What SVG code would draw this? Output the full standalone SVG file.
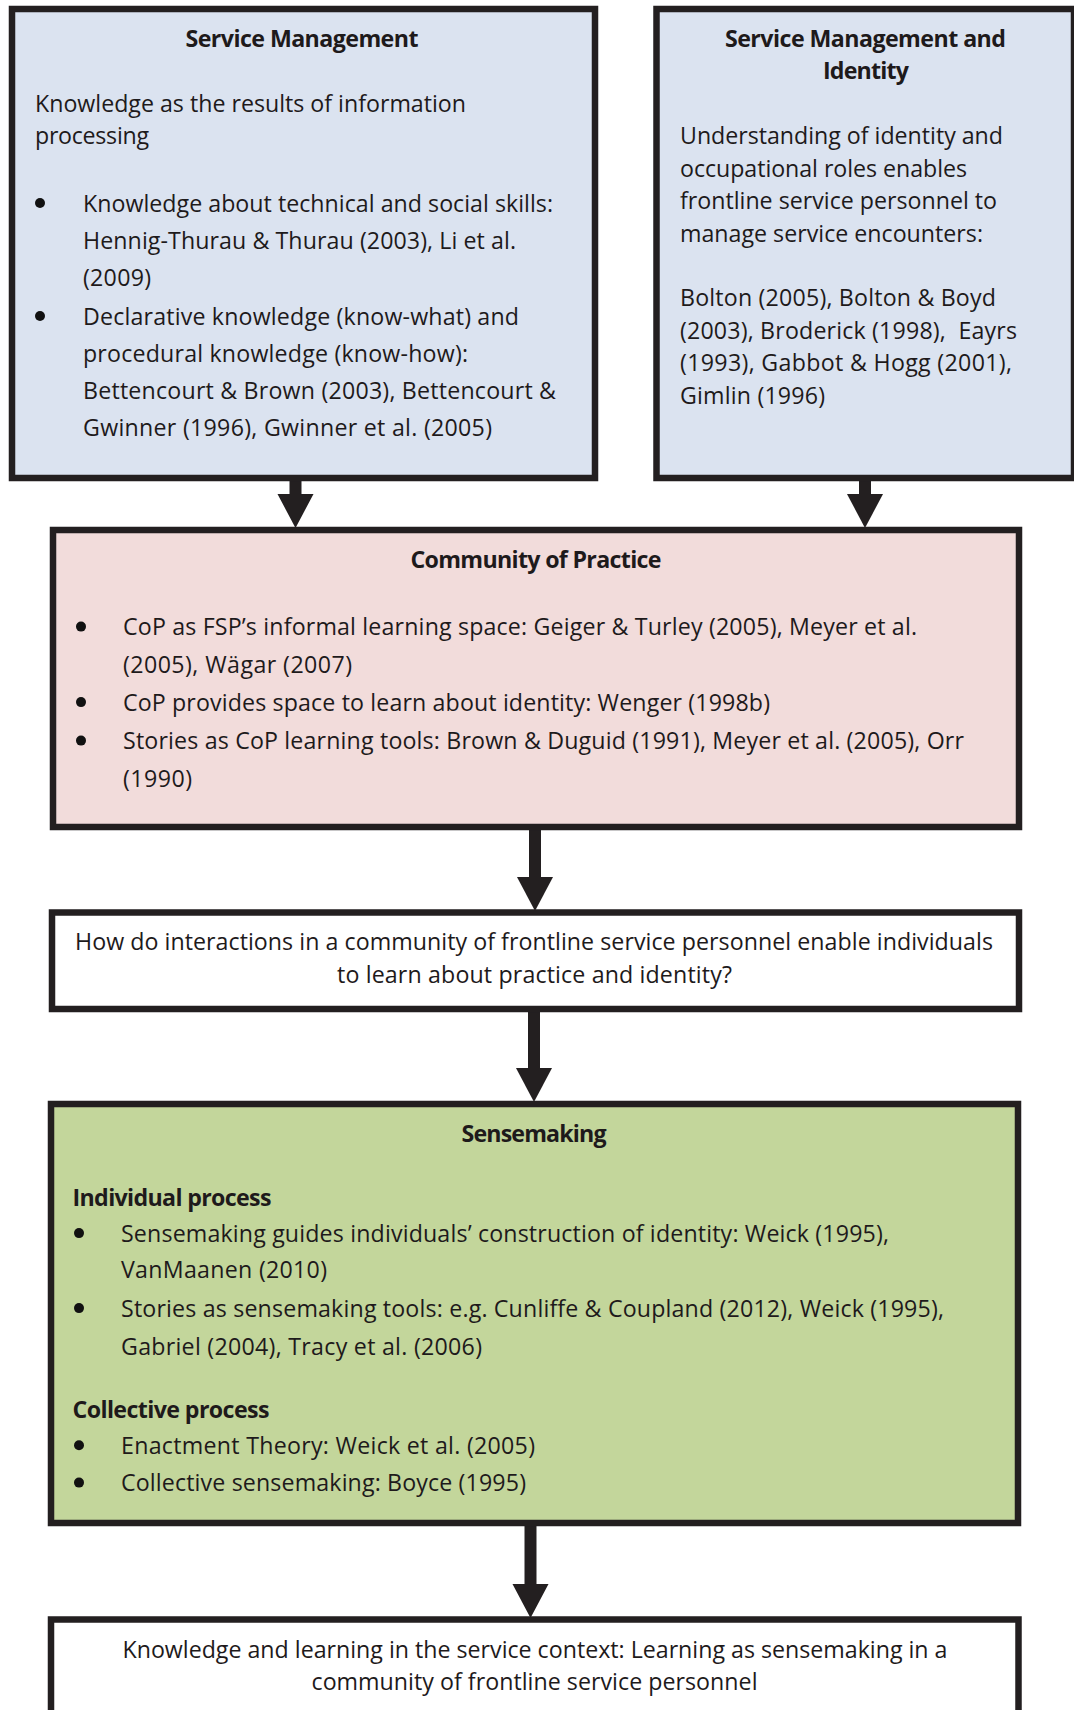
<svg xmlns="http://www.w3.org/2000/svg" width="1074" height="1710" viewBox="0 0 1074 1710">
  <style>
    .box { stroke: #231f20; stroke-width: 6.5; }
    .blue { fill: #dbe3f0; }
    .pink { fill: #f2dcdb; }
    .green { fill: #c3d69b; }
    .white { fill: #ffffff; }
    text { font-family: "Open Sans", "Liberation Sans", sans-serif; font-size: 23.2px; fill: #1e1a1b; }
    .b { font-weight: 700; }
    .m { text-anchor: middle; }
    .dot { fill: #111111; }
    .shaft { stroke: #231f20; stroke-width: 12; fill: none; }
  </style>
  <defs>
    <marker id="head" markerUnits="userSpaceOnUse" markerWidth="36" markerHeight="38" viewBox="0 -19 36 38" refX="0" refY="0" orient="auto">
      <path d="M0,-18 L34,0 L0,18 Z" fill="#231f20"/>
    </marker>
  </defs>

  <rect width="1074" height="1710" fill="#ffffff"/>

  <!-- connectors -->
  <g id="connectors">
    <line class="shaft" x1="295.5" y1="478" x2="295.5" y2="494" marker-end="url(#head)"/>
    <line class="shaft" x1="865" y1="478" x2="865" y2="494" marker-end="url(#head)"/>
    <line class="shaft" x1="535" y1="827" x2="535" y2="877" marker-end="url(#head)"/>
    <line class="shaft" x1="534" y1="1009" x2="534" y2="1068" marker-end="url(#head)"/>
    <line class="shaft" x1="530.5" y1="1523" x2="530.5" y2="1584" marker-end="url(#head)"/>
  </g>

  <!-- Service Management -->
  <g id="service-management">
    <rect class="box blue" x="12" y="9" width="583" height="469"/>
    <text class="b m" x="302" y="47" textLength="233">Service Management</text>
    <text x="35" y="111.5" textLength="431">Knowledge as the results of information</text>
    <text x="35" y="143.5" textLength="114">processing</text>
    <circle class="dot" cx="40" cy="203" r="5"/>
    <text x="83" y="211.5" textLength="470">Knowledge about technical and social skills:</text>
    <text x="83" y="248.5" textLength="433">Hennig-Thurau &amp; Thurau (2003), Li et al.</text>
    <text x="83" y="286" textLength="68">(2009)</text>
    <circle class="dot" cx="40" cy="316" r="5"/>
    <text x="83" y="324.5" textLength="436">Declarative knowledge (know-what) and</text>
    <text x="83" y="361.5" textLength="385">procedural knowledge (know-how):</text>
    <text x="83" y="398.5" textLength="473">Bettencourt &amp; Brown (2003), Bettencourt &amp;</text>
    <text x="83" y="436" textLength="409">Gwinner (1996), Gwinner et al. (2005)</text>
  </g>

  <!-- Service Management and Identity -->
  <g id="service-management-identity">
    <rect class="box blue" x="656.5" y="9" width="417.5" height="469"/>
    <text class="b m" x="865.5" y="47" textLength="281">Service Management and</text>
    <text class="b m" x="866" y="79" textLength="86">Identity</text>
    <text x="680" y="144" textLength="323">Understanding of identity and</text>
    <text x="680" y="176.5" textLength="287">occupational roles enables</text>
    <text x="680" y="209" textLength="317">frontline service personnel to</text>
    <text x="680" y="241.5" textLength="303">manage service encounters:</text>
    <text x="680" y="306" textLength="316">Bolton (2005), Bolton &amp; Boyd</text>
    <text x="680" y="338.5" textLength="337">(2003), Broderick (1998),&#160; Eayrs</text>
    <text x="680" y="371" textLength="332">(1993), Gabbot &amp; Hogg (2001),</text>
    <text x="680" y="403.5" textLength="145">Gimlin (1996)</text>
  </g>

  <!-- Community of Practice -->
  <g id="community-of-practice">
    <rect class="box pink" x="53" y="530" width="966" height="297"/>
    <text class="b m" x="536" y="568" textLength="251">Community of Practice</text>
    <circle class="dot" cx="81" cy="626.6" r="5"/>
    <text x="123" y="635" textLength="794">CoP as FSP’s informal learning space: Geiger &amp; Turley (2005), Meyer et al.</text>
    <text x="123" y="672.5" textLength="229">(2005), Wägar (2007)</text>
    <circle class="dot" cx="81" cy="702.1" r="5"/>
    <text x="123" y="710.5" textLength="647">CoP provides space to learn about identity: Wenger (1998b)</text>
    <circle class="dot" cx="81" cy="740.6" r="5"/>
    <text x="123" y="749" textLength="841">Stories as CoP learning tools: Brown &amp; Duguid (1991), Meyer et al. (2005), Orr</text>
    <text x="123" y="787" textLength="69">(1990)</text>
  </g>

  <!-- Research question -->
  <g id="research-question">
    <rect class="box white" x="52" y="912.5" width="967" height="96.5"/>
    <text class="m" x="534" y="950" textLength="918">How do interactions in a community of frontline service personnel enable individuals</text>
    <text class="m" x="534.5" y="982.5" textLength="395">to learn about practice and identity?</text>
  </g>

  <!-- Sensemaking -->
  <g id="sensemaking">
    <rect class="box green" x="51" y="1104" width="967" height="419"/>
    <text class="b m" x="534" y="1141.5" textLength="145">Sensemaking</text>
    <text class="b" x="72.5" y="1205.5" textLength="199">Individual process</text>
    <circle class="dot" cx="79" cy="1233.1" r="5"/>
    <text x="121" y="1241.5" textLength="768">Sensemaking guides individuals’ construction of identity: Weick (1995),</text>
    <text x="121" y="1278.3" textLength="206">VanMaanen (2010)</text>
    <circle class="dot" cx="79" cy="1308.1" r="5"/>
    <text x="121" y="1316.5" textLength="823">Stories as sensemaking tools: e.g. Cunliffe &amp; Coupland (2012), Weick (1995),</text>
    <text x="121" y="1354.8" textLength="361">Gabriel (2004), Tracy et al. (2006)</text>
    <text class="b" x="72.5" y="1417.5" textLength="197">Collective process</text>
    <circle class="dot" cx="79" cy="1445.3" r="5"/>
    <text x="121" y="1453.7" textLength="414">Enactment Theory: Weick et al. (2005)</text>
    <circle class="dot" cx="79" cy="1482.6" r="5"/>
    <text x="121" y="1491" textLength="405">Collective sensemaking: Boyce (1995)</text>
  </g>

  <!-- Outcome -->
  <g id="outcome">
    <rect class="box white" x="51" y="1619.5" width="967.5" height="130"/>
    <text class="m" x="535" y="1658" textLength="825">Knowledge and learning in the service context: Learning as sensemaking in a</text>
    <text class="m" x="534.5" y="1690" textLength="446">community of frontline service personnel</text>
  </g>
</svg>
